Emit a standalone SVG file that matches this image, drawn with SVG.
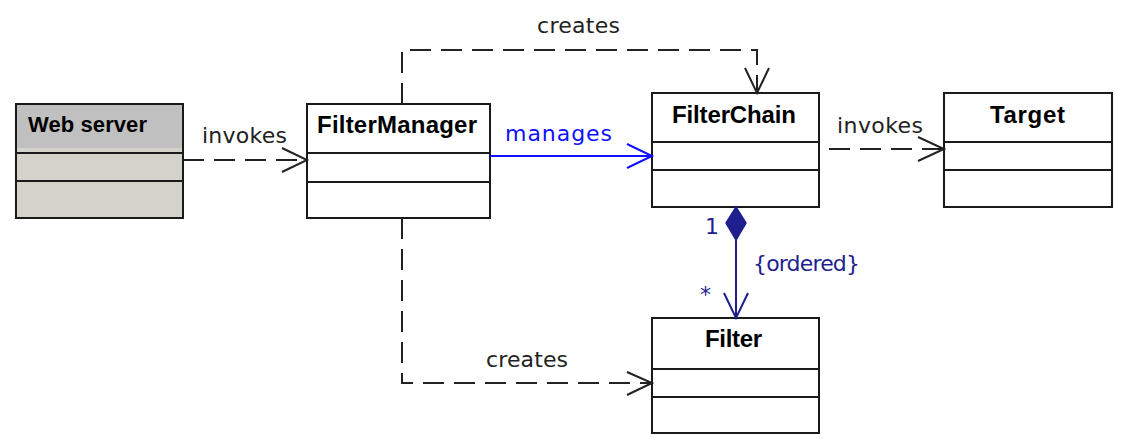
<svg xmlns="http://www.w3.org/2000/svg" width="1125" height="443" viewBox="0 0 1125 443">
<style>
.box{fill:#fff;stroke:#1a1a1a;stroke-width:2}
.div{stroke:#1a1a1a;stroke-width:2}
.title{font-family:"Liberation Sans",Arial,sans-serif;font-weight:bold;font-size:24px;fill:#000}
.lbl{font-family:"DejaVu Sans","Liberation Sans",sans-serif;font-size:22px;fill:#222}
.dash{fill:none;stroke:#222;stroke-width:2;stroke-dasharray:21 10}
.head{fill:none;stroke:#222;stroke-width:2}
</style>
<rect width="1125" height="443" fill="#fff"/>
<g id="webserver">
<rect x="16" y="104" width="167" height="114" fill="#d3d3cb" stroke="#1a1a1a" stroke-width="2"/>
<rect x="17" y="105" width="165" height="43" fill="#c0c0c0"/>
<line class="div" x1="16" y1="153" x2="183" y2="153"/>
<line class="div" x1="16" y1="181" x2="183" y2="181"/>
<text class="title" x="28" y="132" style="font-size:22px" textLength="119">Web server</text>
</g>
<g id="filtermanager">
<rect class="box" x="307" y="104" width="183" height="114"/>
<line class="div" x1="307" y1="153" x2="490" y2="153"/>
<line class="div" x1="307" y1="182" x2="490" y2="182"/>
<text class="title" x="317" y="133" textLength="160">FilterManager</text>
</g>
<g id="filterchain">
<rect class="box" x="652" y="93" width="167" height="114"/>
<line class="div" x1="652" y1="142" x2="819" y2="142"/>
<line class="div" x1="652" y1="170" x2="819" y2="170"/>
<text class="title" x="672" y="123" textLength="124">FilterChain</text>
</g>
<g id="target">
<rect class="box" x="944" y="93" width="168" height="114"/>
<line class="div" x1="944" y1="142" x2="1112" y2="142"/>
<line class="div" x1="944" y1="170" x2="1112" y2="170"/>
<text class="title" x="990" y="123" textLength="75">Target</text>
</g>
<g id="filter">
<rect class="box" x="652" y="318" width="167" height="115"/>
<line class="div" x1="652" y1="369" x2="819" y2="369"/>
<line class="div" x1="652" y1="397" x2="819" y2="397"/>
<text class="title" x="705" y="347" textLength="57">Filter</text>
</g>
<g id="connectors">
<path class="dash" d="M183 160 H305"/>
<path class="head" d="M282 148 L307 160 L282 172"/>
<text class="lbl" x="202" y="143" textLength="85">invokes</text>
<path d="M490 156 H651" stroke="#1010ff" stroke-width="2" fill="none"/>
<path d="M627 144 L652 156 L627 168" stroke="#1010ff" stroke-width="2" fill="none"/>
<text class="lbl" x="505" y="141" textLength="107" style="fill:#1010ff">manages</text>
<path class="dash" d="M829 149 H942"/>
<path class="head" d="M918 137 L944 149 L918 161"/>
<text class="lbl" x="837" y="133" textLength="86">invokes</text>
<path class="dash" d="M402 104 V50 H757 V91"/>
<path class="head" d="M745 68 L757 93 L769 68"/>
<text class="lbl" x="537" y="33" textLength="83">creates</text>
<path class="dash" d="M402 218 V383 H650"/>
<path class="head" d="M627 372 L652 383 L627 395"/>
<text class="lbl" x="486" y="367" textLength="82">creates</text>
<path d="M736 207 L746 223 L736 240 L726 223 Z" fill="#1e1e8f" stroke="#1e1e8f" stroke-width="1.5"/>
<path d="M736 240 V317" stroke="#1e1e8f" stroke-width="2" fill="none"/>
<path d="M724 293 L736 318 L748 293" stroke="#1e1e8f" stroke-width="2" fill="none"/>
<text class="lbl" x="705" y="234" style="fill:#1e1e8f">1</text>
<text class="lbl" x="700" y="302" style="fill:#1e1e8f">*</text>
<text class="lbl" x="753" y="271" textLength="107" style="fill:#1e1e8f">{ordered}</text>
</g>
</svg>
